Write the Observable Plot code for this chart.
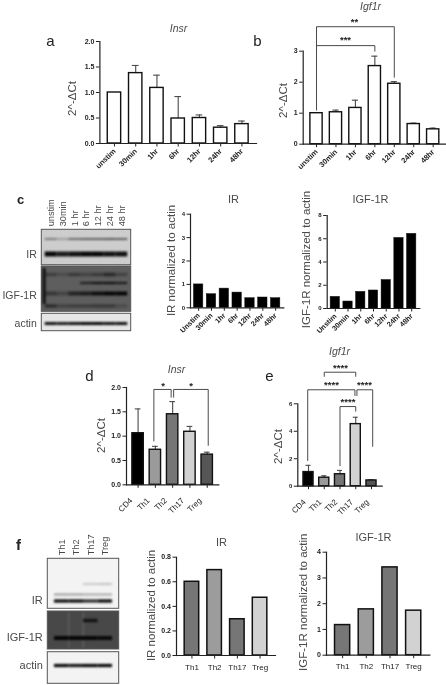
<!DOCTYPE html>
<html><head><meta charset="utf-8">
<script src="https://cdn.jsdelivr.net/npm/d3@7"></script>
<script src="https://cdn.jsdelivr.net/npm/@observablehq/plot@0.6"></script>
<style>
html,body{margin:0;padding:0;background:#fff}
#root{position:relative;width:446px;height:685px;overflow:hidden;filter:blur(.45px);font-family:"Liberation Sans",Arial,sans-serif}
#root svg{position:absolute;background:transparent;max-width:none;overflow:visible}
</style></head><body><div id="root"></div>
<script>
// ---------- chart data ----------
const timeA=["unstim","30min","1hr","6hr","12hr","24hr","48hr"];
const timeC=["Unstim","30min","1hr","6hr","12hr","24hr","48hr"];
const cells=["CD4","Th1","Th2","Th17","Treg"];
const cells4=["Th1","Th2","Th17","Treg"];
const aVal=[1.0,1.38,1.09,0.49,0.50,0.31,0.38];
const aUp=[null,1.53,1.34,0.92,0.56,0.35,0.44];
const bVal=[1.0,1.03,1.17,2.52,1.95,0.65,0.48];
const bUp=[null,1.10,1.42,2.84,2.02,0.68,0.52];
const cIR=[1.0,0.58,0.82,0.65,0.41,0.44,0.41];
const cIGF=[1.0,0.6,1.43,1.55,2.45,6.07,6.42];
const dVal=[1.06,0.72,1.45,1.09,0.62];
const dUp=[1.56,0.79,1.71,1.20,0.67];
const eVal=[1.03,0.62,0.87,4.52,0.42];
const eUp=[1.52,0.76,1.15,5.02,0.47];
const fIR=[0.60,0.695,0.295,0.47];
const fIGF=[1.17,1.78,3.41,1.73];
const cellFills=["#000000","#9a9a9a","#767676","#d2d2d2","#565656"];
const cellFills4=["#767676","#9c9c9c","#767676","#d2d2d2"];

// ---------- blot data: lane labels, membranes, band intensities per lane ----------
const lanesC=["unstim","30min","1 hr","6 hr","12 hr","24 hr","48 hr"];
const lanesF=["Th1","Th2","Th17","Treg"];
const blotsC=[{name:"IR",top:229.3,bottom:264.7,fill:"#cdcdcd",labelY:254},
              {name:"IGF-1R",top:266,bottom:311.3,fill:"#5e5e5e",labelY:295},
              {name:"actin",top:313.3,bottom:330.7,fill:"#e6e6e6",labelY:323}];
const bandsC=[{pos:238.5,w:1.8,v:[.45,.25,.55,.6,.6,.65,.6]},
              {pos:253.5,w:5,v:[1,.9,.95,1,1,.95,.95]},
              {pos:274,w:3.5,v:[.35,.2,.4,.3,.4,.6,.3]},
              {pos:282.5,w:2.2,v:[0,0,0,.7,.85,.9,.75]},
              {pos:293,w:4,v:[.45,.3,.65,.75,.9,1,1]},
              {pos:305.5,w:3.5,v:[.55,.3,.35,.35,.4,.4,.2]},
              {pos:323,w:3,v:[.95,.9,.95,1,1,.95,.95]}];
const streaksC=[{lane:"unstim",y1:268,y2:304,shift:-7}];
const blotsF=[{name:"IR",top:558.3,bottom:608.3,fill:"#f3f3f3",labelY:600},
              {name:"IGF-1R",top:611,bottom:649,fill:"#484848",labelY:636.7},
              {name:"actin",top:651.7,bottom:683.3,fill:"#f3f3f3",labelY:665}];
const bandsF=[{pos:583.5,w:1,v:[0,0,.35,.4]},
              {pos:594,w:1.8,v:[.4,.4,.35,.35]},
              {pos:600.5,w:3.2,v:[1,1,.85,1]},
              {pos:620,w:3.5,v:[0,0,.8,0]},
              {pos:637.5,w:4,v:[1,1,1,.95]},
              {pos:665,w:3.2,v:[1,.95,1,1]}];
const streaksF=[{lane:"Th1",y1:612,y2:648,shift:7,light:true},{lane:"Th2",y1:612,y2:648,shift:7,light:true}];

// ---------- helpers ----------
const root=document.getElementById("root");
const ink="#222", soft="#4a4a4a", font='"Liberation Sans",Arial,sans-serif';
function place(svg,box){svg.style.left=box[0]+"px";svg.style.top=box[1]+"px";root.appendChild(svg);}

function panel(o){
  const [bx0,by0,bx1,by1]=o.box,[l,t,r,b]=o.frame;
  const cx=(l+r)/2, data=o.cats.map((c,i)=>({c,v:o.values[i],u:o.upper?o.upper[i]:null,f:o.fills?o.fills[i]:o.fill}));
  const err=data.filter(d=>d.u!=null);
  const label=(text,px,py,extra={})=>Plot.text([text],{text:d=>d,frameAnchor:"top",lineAnchor:"middle",dx:px-cx,dy:py-t,fontFamily:font,...extra});
  const step=(r-l)/(o.cats.length+o.padding), capInset=step*(1-o.padding)/4;
  const marks=[
    Plot.ruleX(err,{x:"c",y1:"v",y2:"u",stroke:soft,strokeWidth:1.1}),
    Plot.tickY(err,{x:"c",y:"u",stroke:soft,strokeWidth:1.1,insetLeft:capInset,insetRight:capInset}),
    Plot.barY(data,{x:"c",y:"v",fill:"f",stroke:"#111",strokeWidth:o.barStroke??1.4}),
    Plot.frame({anchor:"left",stroke:ink,strokeWidth:1.2}),
    Plot.frame({anchor:"bottom",stroke:ink,strokeWidth:1.2}),
    Plot.axisY({ticks:o.yTicks,tickFormat:o.yFormat,tickSize:3.5,tickPadding:2,stroke:ink,fill:ink,fontSize:o.yFont??7,fontWeight:"bold",fontFamily:font,label:null}),
    Plot.axisX({tickSize:3.5,tickFormat:()=>"",stroke:ink,label:null}),
    Plot.axisX({tickRotate:o.rotate??0,tickSize:0,tickPadding:(o.xPad??3)+3.5,fill:ink,fontSize:o.xFont??7.5,fontWeight:o.xWeight??"bold",fontFamily:font,label:null,dx:o.xDx??0,dy:o.xDy??0}),
    label(o.title[0],o.title[1],o.title[2],{fontSize:o.title[3]??11,fontStyle:o.italic?"italic":"normal",fill:soft}),
    label(o.ylabel[0],o.ylabel[1],o.ylabel[2],{fontSize:o.ylabel[3],rotate:-90,fill:soft})
  ];
  if(o.letter) marks.push(label(o.letter[0],o.letter[1],o.letter[2],{fontSize:o.letter[3]??15,fill:"#222"}));
  for(const br of o.brackets??[]){
    const pts=[{x:br.from,y:br.dropFrom},{x:br.from,y:br.y},{x:br.to,y:br.y},{x:br.to,y:br.dropTo}];
    marks.push(Plot.line(pts,{x:"x",y:"y",stroke:soft,strokeWidth:1,dx:br.dx??0}));
  }
  for(const s of o.stars??[]) marks.push(label(s[0],s[1],s[2],{fontSize:9.5,fontWeight:"bold",fill:"#222"}));
  const svg=Plot.plot({width:bx1-bx0,height:by1-by0,marginLeft:l-bx0,marginRight:bx1-r,marginTop:t-by0,marginBottom:by1-b,
    style:{background:"transparent",fontFamily:font},
    x:{type:"band",domain:o.cats,padding:o.padding,round:false,axis:null},
    y:{domain:o.yDomain,axis:null,grid:false},
    color:{type:"identity"},
    marks});
  place(svg,o.box);
}

function blot(o){
  const [bx0,by0,bx1,by1]=o.box,[l,r]=o.frame;
  const rows=o.bands.flatMap(b=>b.v.map((v,i)=>({lane:o.lanes[i],pos:b.pos,w:b.w,v})));
  const soften=(idx,sc,val,dim,ctx,next)=>{const g=next(idx,sc,val,dim,ctx);g.style.filter="blur(.8px)";return g;};
  const svg=Plot.plot({width:bx1-bx0,height:by1-by0,marginLeft:l-bx0,marginRight:bx1-r,marginTop:0,marginBottom:0,
    style:{background:"transparent",fontFamily:font},
    x:{type:"band",domain:o.lanes,paddingInner:0,paddingOuter:o.outer,round:false,axis:null},
    y:{domain:[by0,by1],range:[0,by1-by0],axis:null},
    marks:[
      Plot.rect(o.blots,{y1:"top",y2:"bottom",fill:"fill",stroke:"#555",strokeWidth:1}),
      ...o.streaks.map(s=>Plot.ruleX([s],{x:"lane",y1:"y1",y2:"y2",dx:s.shift,stroke:s.light?"#6a6a6a":"#111",strokeWidth:s.light?1:3,render:soften})),
      Plot.tickY(rows.filter(d=>d.v>0),{x:"lane",y:"pos",stroke:"#050505",strokeOpacity:"v",strokeWidth:"w",render:soften}),
      Plot.text(o.blots,{y:"labelY",text:"name",frameAnchor:"left",textAnchor:"end",dx:-5,fontSize:o.nameFont??11,fill:soft,fontFamily:font}),
      Plot.text(o.lanes,{x:d=>d,y:()=>o.blots[0].top,text:d=>d,rotate:-90,textAnchor:"start",dy:-3.5,fontSize:9.2,fill:soft,fontFamily:font}),
      Plot.text([o.letter[0]],{text:d=>d,frameAnchor:"top-left",lineAnchor:"middle",textAnchor:"middle",dx:o.letter[1]-l,dy:o.letter[2]-by0,fontSize:o.letter[3],fontWeight:"bold",fill:"#222",fontFamily:font})
    ]});
  place(svg,o.box);
}

// ---------- panels ----------
panel({box:[0,0,258,172],frame:[99.4,41,256,143],cats:timeA,values:aVal,upper:aUp,fill:"#fff",padding:.37,
  yDomain:[0,2],yTicks:[0,.5,1,1.5,2],yFormat:d3.format(".1f"),rotate:-45,
  title:["Insr",178,28,10.5],italic:true,ylabel:["2^-ΔCt",72,98,11.5],letter:["a",50,41]});

panel({box:[250,0,446,172],frame:[302.7,50.7,446,143.7],cats:timeA,values:bVal,upper:bUp,fill:"#fff",padding:.37,
  yDomain:[0,3],yTicks:[0,1,2,3],yFormat:d3.format("d"),rotate:-45,
  title:["Igf1r",370,6,10.5],italic:true,ylabel:["2^-ΔCt",283,100,11.5],letter:["b",257,41],
  brackets:[{from:"unstim",to:"12hr",y:3.79,dropFrom:1.1,dropTo:2.16},{from:"unstim",to:"6hr",y:3.18,dropFrom:3.0,dropTo:3.0}],
  stars:[["**",354,21],["***",345,39.5]]});

blot({box:[0,172,160,340],frame:[41.3,130.7],lanes:lanesC,outer:.29,blots:blotsC,bands:bandsC,streaks:streaksC,letter:["c",20,199.5,13],nameFont:10.5});

panel({box:[160,172,298,340],frame:[190,213.7,283.3,307.3],cats:timeC,values:cIR,fill:"#000",padding:.27,barStroke:.5,
  yDomain:[0,4],yTicks:[0,1,2,3,4],yFormat:d3.format("d"),rotate:-45,xFont:7.2,yFont:6,
  title:["IR",233,199,11],ylabel:["IR normalized to actin",171,260,11.5]});

panel({box:[298,172,446,340],frame:[326.7,215,419.3,308],cats:timeC,values:cIGF,fill:"#000",padding:.27,barStroke:.5,
  yDomain:[0,8],yTicks:[0,2,4,6,8],yFormat:d3.format("d"),rotate:-45,xFont:7.2,yFont:6,
  title:["IGF-1R",370,199,11],ylabel:["IGF-1R normalized to actin",306,259,11.5]});

panel({box:[60,340,260,514],frame:[126,387,218.3,484.3],cats:cells,values:dVal,upper:dUp,fills:cellFills,padding:.34,
  yDomain:[0,2],yTicks:[0,.5,1,1.5,2],yFormat:d3.format(".1f"),rotate:-45,xFont:8,xWeight:"normal",xDx:-7,xDy:8,
  title:["Insr",176,369,10.5],italic:true,ylabel:["2^-ΔCt",101,435,11.5],letter:["d",89,376],
  brackets:[{from:"Th1",to:"Th2",y:1.96,dropFrom:.9,dropTo:1.8,dx:-1.5},{from:"Th2",to:"Treg",y:1.96,dropFrom:1.8,dropTo:.81,dx:1}],
  stars:[["*",162.7,385],["*",190.7,385]]});

panel({box:[260,340,446,514],frame:[297.3,403.3,381.7,485.7],cats:cells,values:eVal,upper:eUp,fills:cellFills,padding:.36,
  yDomain:[0,6],yTicks:[0,2,4,6],yFormat:d3.format("d"),rotate:-45,xFont:8,xWeight:"normal",yFont:6,xDx:-4,xDy:8,
  title:["Igf1r",339,351,10.5],italic:true,ylabel:["2^-ΔCt",278,446,11.5],letter:["e",269,376],
  brackets:[{from:"Th1",to:"Th17",y:8.3,dropFrom:8.0,dropTo:8.0},{from:"CD4",to:"Th17",y:7.02,dropFrom:1.87,dropTo:6.6,dx:-.8},
            {from:"Th17",to:"Treg",y:7.02,dropFrom:6.6,dropTo:2.9,dx:1.2},{from:"Th2",to:"Th17",y:5.8,dropFrom:1.5,dropTo:5.46}],
  stars:[["****",340,367],["****",331,384],["****",364,384],["****",347.5,401]]});

blot({box:[0,514,140,685],frame:[47.3,118.7],lanes:lanesF,outer:.46,blots:blotsF,bands:bandsF,streaks:streaksF,letter:["f",18,545,15]});

panel({box:[140,514,292,685],frame:[176,556.7,275,655],cats:cells4,values:fIR,fills:cellFills4,padding:.36,barStroke:1.5,
  yDomain:[0,.8],yTicks:[0,.2,.4,.6,.8],yFormat:d3.format(".1f"),xFont:8,xWeight:"normal",xPad:5,
  title:["IR",221,542,11],ylabel:["IR normalized to actin",151,605,11.5]});

panel({box:[292,514,446,685],frame:[326,551.7,429.3,654.7],cats:cells4,values:fIGF,fills:cellFills4,padding:.36,barStroke:1.5,
  yDomain:[0,4],yTicks:[0,1,2,3,4],yFormat:d3.format("d"),xFont:8,xWeight:"normal",xPad:5,
  title:["IGF-1R",373,537,11],ylabel:["IGF-1R normalized to actin",302.7,601.7,11.5]});
</script></body></html>
